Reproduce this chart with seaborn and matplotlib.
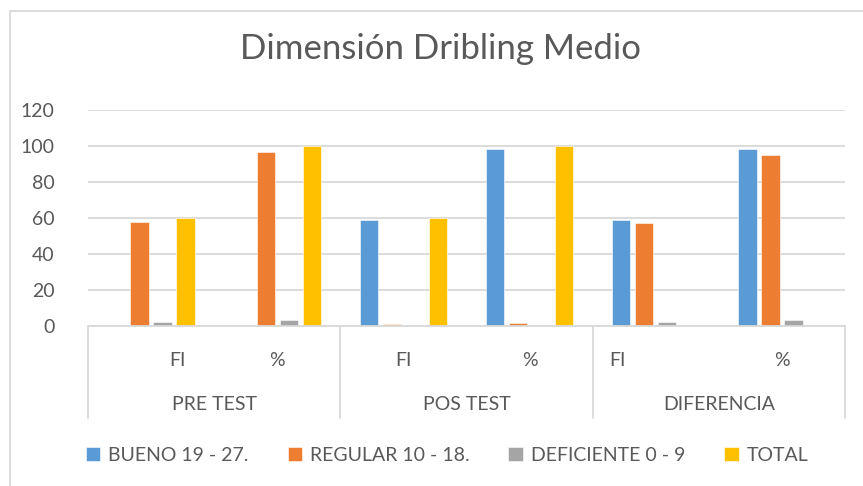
import matplotlib
matplotlib.use("Agg")
import matplotlib.pyplot as plt
import seaborn as sns
import pandas as pd
from matplotlib.patches import Rectangle
import matplotlib.transforms as mtransforms

# ---- data ----
groups = ["PRE TEST", "POS TEST", "DIFERENCIA"]
subcats = ["FI", "%"]
categories = [f"{g}|{s}" for g in groups for s in subcats]
series = ["BUENO 19 - 27.", "REGULAR 10 - 18.", "DEFICIENTE 0 - 9", "TOTAL"]
bueno = [0, 0, 59, 98.33, 59, 98.33]
regular = [58, 96.67, 1, 1.67, 57, 95]
deficiente = [2, 3.33, 0, 0, 2, 3.33]
total = [60, 100, 60, 100, 0, 0]
yticks = [0, 20, 40, 60, 80, 100, 120]

colors = ["#5B9BD5", "#ED7D31", "#A5A5A5", "#FFC000"]
txt = "#595959"
font = "Lato"
fs = 14

rows = []
for s, vals in zip(series, [bueno, regular, deficiente, total]):
    for c, v in zip(categories, vals):
        rows.append({"cat": c, "serie": s, "valor": v})
df = pd.DataFrame(rows)

sns.set_theme(style="white")
plt.rcParams["font.family"] = [font, "DejaVu Sans"]

W, H = 863, 486
fig = plt.figure(figsize=(W / 100, H / 100), dpi=100)
left, right, top, bottom = 88, 845, 110, 326
ax = fig.add_axes([left / W, 1 - bottom / H, (right - left) / W, (bottom - top) / H])

sns.barplot(data=df, x="cat", y="valor", hue="serie", order=categories,
            hue_order=series, palette=colors, width=0.73, gap=0.2,
            ax=ax, legend=True, saturation=1, edgecolor="white", linewidth=0.4)

ax.set_ylim(0, 120)
ax.set_xlim(-0.5, 5.5)
ax.set_yticks(yticks)
ax.set_yticklabels([str(t) for t in yticks], color=txt, fontsize=fs)
ax.tick_params(axis="y", length=0, pad=24)
ax.grid(axis="y", color="#d9d9d9", linewidth=1.3)
ax.set_axisbelow(True)
for sp in ["top", "right", "left"]:
    ax.spines[sp].set_visible(False)
ax.spines["bottom"].set_color("#d9d9d9")
ax.spines["bottom"].set_linewidth(1.3)
ax.set_xlabel("")
ax.set_ylabel("")

# sub-category labels (FI / %)
label_offsets = [0.21, 0, 0, 0, -0.3, 0]
ax.set_xticks([i + o for i, o in enumerate(label_offsets)])
ax.set_xticklabels([c.split("|")[1] for c in categories], color=txt, fontsize=fs)
ax.tick_params(axis="x", length=0, pad=19)

# group labels and separators
trans = mtransforms.blended_transform_factory(ax.transData, ax.transAxes)
sep_depth = -(418 - 326) / (bottom - top)
for k in range(len(groups) + 1):
    x = 2 * k - 0.5
    ax.plot([x, x], [0, sep_depth], transform=trans, color="#d9d9d9",
            linewidth=1.3, clip_on=False)
for k, g in enumerate(groups):
    ax.text(2 * k + 0.5, -(404 - 326) / (bottom - top), g, transform=trans,
            ha="center", va="center", color=txt, fontsize=fs)

# legend
handles, labels = ax.get_legend_handles_labels()
ax.get_legend().remove()
leg = fig.legend(handles, labels, loc="center", ncol=4,
                 bbox_to_anchor=(447 / W, 1 - 455 / H), frameon=False,
                 handlelength=0.75, handleheight=0.75, handletextpad=0.4,
                 columnspacing=2.0, fontsize=fs)
for t in leg.get_texts():
    t.set_color(txt)

# title
fig.text(441 / W, 1 - 59 / H, "Dimensión Dribling Medio", ha="center", va="baseline",
         color=txt, fontsize=25)

# chart border (right and bottom edges fall outside the image)
fig.patches.append(Rectangle((10 / W, 1 - 500 / H), (880 - 10) / W, (500 - 11) / H,
                             transform=fig.transFigure, fill=False,
                             edgecolor="#d9d9d9", linewidth=1.3, clip_on=False))

fig.savefig("out.png", dpi=100, facecolor="white")
